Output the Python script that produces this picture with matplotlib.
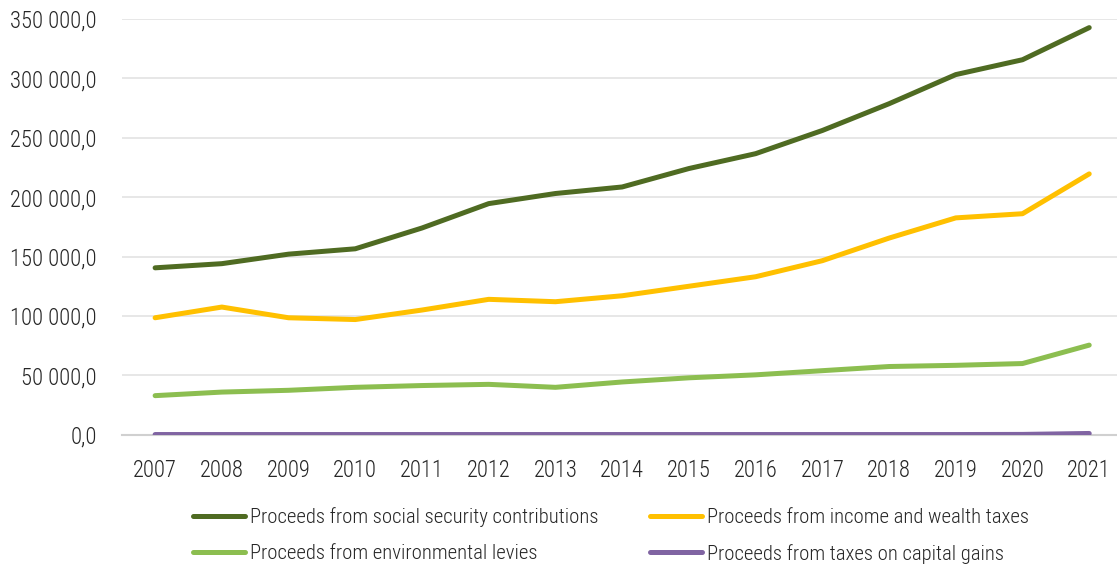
import numpy as np
import matplotlib
matplotlib.use("Agg")
import matplotlib.pyplot as plt
from matplotlib import font_manager
from matplotlib.ticker import FuncFormatter

names = {f.name for f in font_manager.fontManager.ttflist}
fam = "Roboto Condensed" if "Roboto Condensed" in names else "Roboto"
plt.rcParams['font.family'] = [fam, 'DejaVu Sans']
plt.rcParams['font.weight'] = 'light'

years = np.arange(2007, 2022)
social = [140500, 144000, 152000, 156500, 174000, 194500, 203000, 208500,
          224000, 236500, 256000, 278500, 303000, 315500, 342500]
income = [98500, 107500, 98500, 97000, 105000, 114000, 112000, 117000,
          125000, 133000, 146500, 165500, 182500, 186000, 219500]
environ = [33000, 36000, 37500, 40000, 41500, 42500, 40000, 44500,
           48000, 50500, 54000, 57500, 58500, 60000, 75500]
capital = [300, 300, 300, 300, 300, 300, 300, 300,
           300, 300, 300, 300, 300, 400, 1200]

labels = ["Proceeds from social security contributions",
          "Proceeds from income and wealth taxes",
          "Proceeds from environmental levies",
          "Proceeds from taxes on capital gains"]
colors = ["#4F6B22", "#FFC000", "#8CBE50", "#8064A2"]

fig = plt.figure(figsize=(11.17, 5.67), dpi=100)
ax = fig.add_axes([0.109, 0.233, 0.896, 0.734])

series = [social, income, environ, capital]
handles = {}
for s, lab, c in zip(series, labels, colors):
    handles[lab], = ax.plot(years, s, color=c, lw=3.6, solid_capstyle='round',
                            solid_joinstyle='round', label=lab, zorder=3)

ax.set_xlim(2006.5, 2021.5)
ax.set_ylim(0, 350000)
ax.set_yticks(np.arange(0, 350001, 50000))
ax.set_xticks(years)
ax.yaxis.set_major_formatter(FuncFormatter(lambda v, p: f"{int(v):,}".replace(",", " ") + ",0"))
ax.grid(True, axis='y', color='#E3E3E3', lw=1.2)
ax.set_axisbelow(True)
for sp in ['top', 'right', 'left']:
    ax.spines[sp].set_visible(False)
ax.spines['bottom'].set_color('#D0D0D0')
ax.spines['bottom'].set_linewidth(1.5)
ax.tick_params(axis='both', length=0, labelsize=16.3, labelcolor='#262626')
ax.tick_params(axis='y', pad=18)
ax.tick_params(axis='x', pad=17)

# column-major fill: left column social/environ, right column income/capital
order = [labels[0], labels[2], labels[1], labels[3]]
fig.legend([handles[l] for l in order], order, ncol=2, loc='center',
           bbox_to_anchor=(0.547, 0.0555), frameon=False, fontsize=14.9,
           handlelength=2.5, handletextpad=0.25, columnspacing=2.5,
           labelspacing=0.8, labelcolor='#262626')

fig.savefig("out.png", dpi=100, facecolor='white')
